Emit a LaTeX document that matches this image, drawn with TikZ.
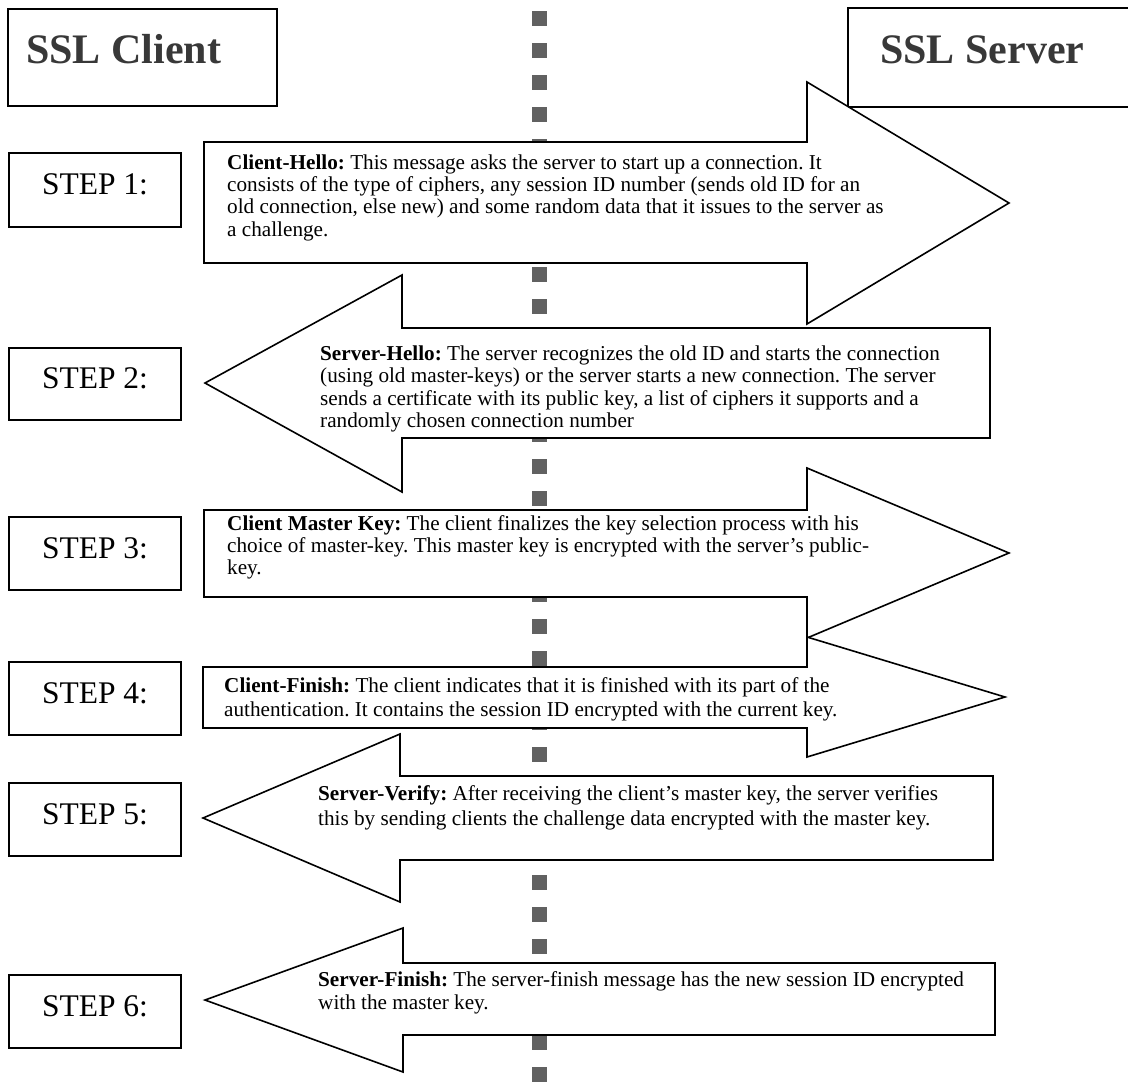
\documentclass[tikz,border=0pt]{standalone}
\usepackage{fontspec}
\setmainfont{Liberation Serif}
\newcommand{\msglines}[1]{\parbox[t]{830pt}{\raggedright\frenchspacing #1}}
\begin{document}
\begin{tikzpicture}[x=1pt,y=-1pt,line join=miter,
  framebox/.style={draw=black,line width=1.4pt,fill=white,inner sep=0pt},
  arrowshape/.style={draw=black,line width=1.6pt,fill=white},
  steplabel/.style={anchor=base,inner sep=0pt,font=\fontsize{31.5}{36}\selectfont},
  titlelabel/.style={anchor=base west,inner sep=0pt,font=\fontsize{42}{48}\selectfont\bfseries,text=black!78},
  msg/.style={anchor=base west,inner sep=0pt,font=\fontsize{21.2}{#1}\selectfont},
  centreline/.style={draw=black!62,line width=15pt,dash pattern=on 15pt off 17pt,dash phase=21pt}]
\useasboundingbox (0,0) rectangle (1128,1085);
\fill[white] (0,0) rectangle (1128,1085);

% dashed centre line
\coordinate (ltop) at (539.5,0);
\coordinate (lbot) at (539.5,1085);
\draw[centreline] (ltop) -- (lbot);

% title boxes
\node[framebox,minimum width=269pt,minimum height=97pt] (cbox) at (142.5,57.5) {};
\node[titlelabel] (ctitle) at (26,63) {SSL Client};
\node[framebox,minimum width=300pt,minimum height=99pt] (sbox) at (998,57.5) {};
\node[titlelabel] (stitle) at (880,63) {SSL Server};

% step boxes
\node[framebox,minimum width=172pt,minimum height=74pt] (b1) at (95,190) {};
\node[steplabel] (t1) at (95,194) {STEP 1:};
\node[framebox,minimum width=172pt,minimum height=72pt] (b2) at (95,384) {};
\node[steplabel] (t2) at (95,388) {STEP 2:};
\node[framebox,minimum width=172pt,minimum height=73pt] (b3) at (95,553.5) {};
\node[steplabel] (t3) at (95,558) {STEP 3:};
\node[framebox,minimum width=172pt,minimum height=73pt] (b4) at (95,698.5) {};
\node[steplabel] (t4) at (95,703) {STEP 4:};
\node[framebox,minimum width=172pt,minimum height=73pt] (b5) at (95,819.5) {};
\node[steplabel] (t5) at (95,824) {STEP 5:};
\node[framebox,minimum width=172pt,minimum height=73pt] (b6) at (95,1011.5) {};
\node[steplabel] (t6) at (95,1016) {STEP 6:};

% arrows
\draw[arrowshape] (204,142) -- (807,142) -- (807,82) -- (1009,203) -- (807,324) -- (807,263) -- (204,263) -- cycle;
\draw[arrowshape] (990,328) -- (402,328) -- (402,275) -- (205,383) -- (402,492) -- (402,438) -- (990,438) -- cycle;
\draw[arrowshape] (204,510) -- (807,510) -- (807,468) -- (1009,553) -- (807,638) -- (807,597) -- (204,597) -- cycle;
\draw[arrowshape] (203,667) -- (807,667) -- (807,637) -- (1005,697) -- (807,757) -- (807,728) -- (203,728) -- cycle;
\draw[arrowshape] (993,776) -- (400,776) -- (400,734) -- (203,818) -- (400,902) -- (400,860) -- (993,860) -- cycle;
\draw[arrowshape] (995,963) -- (403,963) -- (403,928) -- (205,1000) -- (403,1072) -- (403,1035) -- (995,1035) -- cycle;

% messages
\node[msg=22.4] (m1) at (227,169) {\msglines{\textbf{Client-Hello:} This message asks the server to start up a connection. It\\
consists of the type of ciphers, any session ID number (sends old ID for an\\
old connection, else new) and some random data that it issues to the server as\\
a challenge.}};
\node[msg=22.5] (m2) at (320,360) {\msglines{\textbf{Server-Hello:} The server recognizes the old ID and starts the connection\\
(using old master-keys) or the server starts a new connection. The server\\
sends a certificate with its public key, a list of ciphers it supports and a\\
randomly chosen connection number}};
\node[msg=22] (m3) at (227,530) {\msglines{\textbf{Client Master Key:} The client finalizes the key selection process with his\\
choice of master-key. This master key is encrypted with the server’s public-\\
key.}};
\node[msg=24] (m4) at (224,692) {\msglines{\textbf{Client-Finish:} The client indicates that it is finished with its part of the\\
authentication. It contains the session ID encrypted with the current key.}};
\node[msg=25] (m5) at (318,800) {\msglines{\textbf{Server-Verify:} After receiving the client’s master key, the server verifies\\
this by sending clients the challenge data encrypted with the master key.}};
\node[msg=23] (m6) at (318,986) {\msglines{\textbf{Server-Finish:} The server-finish message has the new session ID encrypted\\
with the master key.}};
\end{tikzpicture}
\end{document}
